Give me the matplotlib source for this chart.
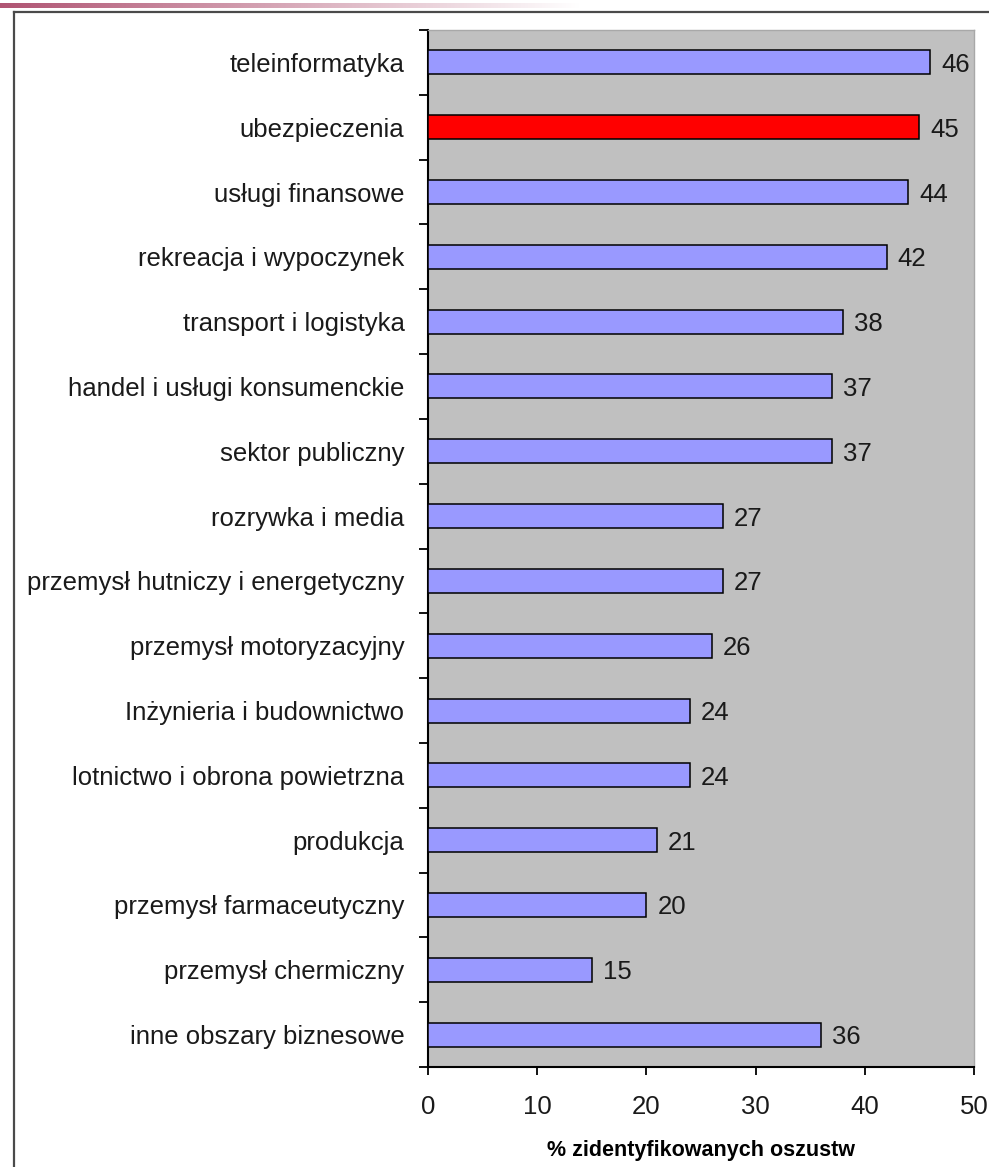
import matplotlib
matplotlib.use("Agg")
import matplotlib.pyplot as plt
import numpy as np
from matplotlib.lines import Line2D

# dane z wykresu (od góry do dołu)
kategorie = [
    "teleinformatyka",
    "ubezpieczenia",
    "usługi finansowe",
    "rekreacja i wypoczynek",
    "transport i logistyka",
    "handel i usługi konsumenckie",
    "sektor publiczny",
    "rozrywka i media",
    "przemysł hutniczy i energetyczny",
    "przemysł motoryzacyjny",
    "Inżynieria i budownictwo",
    "lotnictwo i obrona powietrzna",
    "produkcja",
    "przemysł farmaceutyczny",
    "przemysł chermiczny",
    "inne obszary biznesowe",
]
wartosci = [46, 45, 44, 42, 38, 37, 37, 27, 27, 26, 24, 24, 21, 20, 15, 36]
wyrozniona = "ubezpieczenia"
os_x_ticks = [0, 10, 20, 30, 40, 50]
opis_x = "% zidentyfikowanych oszustw"

plt.rcParams["font.family"] = ["Liberation Sans", "DejaVu Sans"]

fig = plt.figure(figsize=(9.89, 11.67), dpi=100)
fig.patch.set_facecolor("white")

# pasek gradientu u góry
grad_ax = fig.add_axes([0.0, 1 - 8 / 1167, 580 / 989, 5 / 1167])
grad = np.linspace(0, 1, 256).reshape(1, -1)
start = np.array([0.69, 0.33, 0.45])
rgb = start[None, None, :] * (1 - grad[..., None]) + np.ones(3)[None, None, :] * grad[..., None]
grad_ax.imshow(rgb, aspect="auto", extent=[0, 1, 0, 1])
grad_ax.axis("off")

# ramka
fig.add_artist(Line2D([14 / 989, 1.0], [1 - 12 / 1167, 1 - 12 / 1167],
                      color="#4a4a4a", lw=1.6, transform=fig.transFigure))
fig.add_artist(Line2D([14 / 989, 14 / 989], [0, 1 - 12 / 1167],
                      color="#4a4a4a", lw=1.6, transform=fig.transFigure))

ax = fig.add_axes([428 / 989, 100 / 1167, 546 / 989, 1037 / 1167])
ax.set_facecolor("#C0C0C0")

y = np.arange(len(kategorie))
kolory = ["#FF0000" if k == wyrozniona else "#9999FF" for k in kategorie]
ax.barh(y, wartosci, height=0.37, color=kolory, edgecolor="black", linewidth=1.1, zorder=3)

for yi, v in zip(y, wartosci):
    ax.text(v + 1.0, yi, str(v), va="center_baseline", ha="left", fontsize=18.5, color="#1a1a1a")

ax.set_ylim(len(kategorie) - 0.5, -0.5)
ax.set_xlim(0, 50)

ax.set_yticks(y)
ax.set_yticklabels(kategorie, fontsize=18.5, color="#1a1a1a")
ax.tick_params(axis="y", which="major", length=0, pad=17)
ax.set_yticks(np.arange(-0.5, len(kategorie) + 0.5, 1), minor=True)
ax.tick_params(axis="y", which="minor", length=6.5, width=1.3, direction="out")

ax.set_xticks(os_x_ticks)
ax.set_xticklabels([str(t) for t in os_x_ticks], fontsize=18.5, color="#1a1a1a")
ax.tick_params(axis="x", length=6, width=1.3, direction="out", pad=14)

ax.set_xlabel(opis_x, fontsize=15.5, fontweight="bold", labelpad=15)

for s in ["left", "bottom"]:
    ax.spines[s].set_color("black")
    ax.spines[s].set_linewidth(1.5)
for s in ["top", "right"]:
    ax.spines[s].set_color("#a8a8a8")
    ax.spines[s].set_linewidth(1.0)

fig.savefig("out.png", dpi=100, facecolor="white")
